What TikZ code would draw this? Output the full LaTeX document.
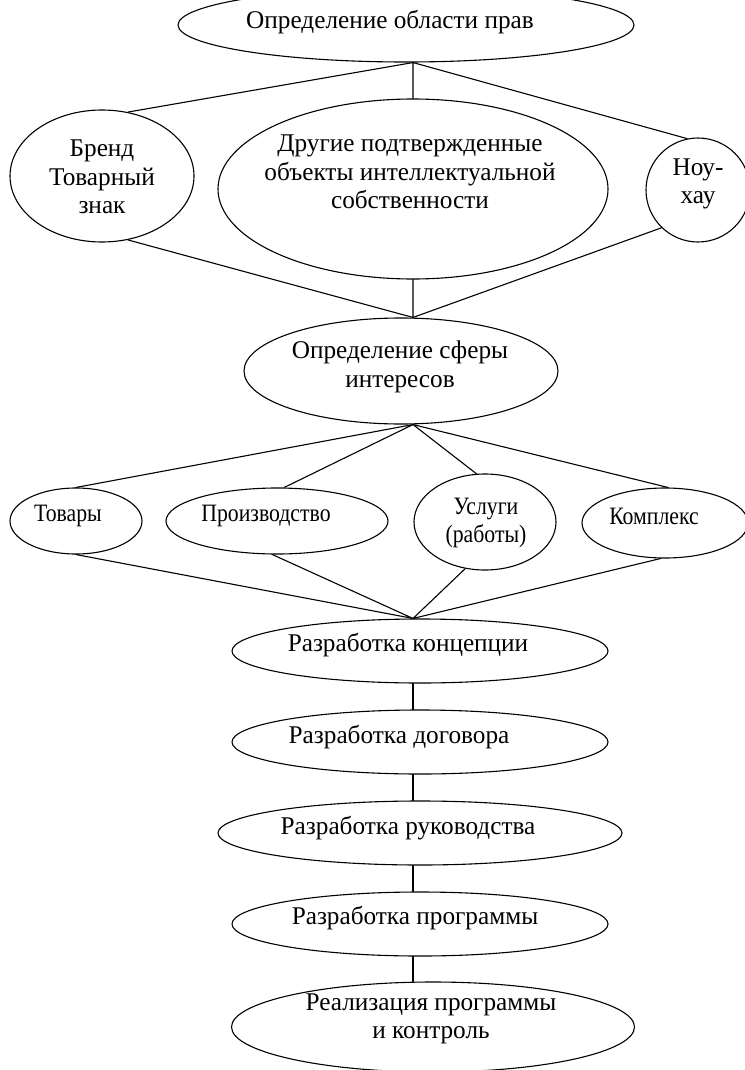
\documentclass[tikz,border=0pt]{standalone}
\usepackage{fontspec}
\setmainfont{Liberation Serif}
\newfontfamily\serifont[FakeStretch=0.99]{Liberation Serif}
\newfontfamily\narrowfont[FakeStretch=0.87]{Liberation Serif}
\usetikzlibrary{shapes.geometric}
\tikzset{
  oval/.style={draw, ellipse, inner sep=0pt},
  txt/.style={align=center, inner sep=0pt},
  narrow/.style={font=\narrowfont\fontsize{25}{28.5}\selectfont},
}
\begin{document}
\begin{tikzpicture}[x=1pt, y=-1pt, line width=1.1pt, line join=round, line cap=round,
  font=\serifont\fontsize{25.5}{28.5}\selectfont]
  \useasboundingbox (0,0) rectangle (744,1070);
  % ovals
  \node[oval, minimum width=456pt, minimum height=74pt] (prava) at (406,25) {};
  \node[oval, minimum width=184pt, minimum height=132pt] (brend) at (102,176) {};
  \node[oval, minimum width=390pt, minimum height=180pt] (drugie) at (413,189) {};
  \node[oval, minimum width=104pt, minimum height=104pt] (nou) at (698,190) {};
  \node[oval, minimum width=314pt, minimum height=106pt] (sfera) at (401,371) {};
  \node[oval, minimum width=132pt, minimum height=66pt] (tovary) at (76,521) {};
  \node[oval, minimum width=222pt, minimum height=66pt] (proizv) at (277,521) {};
  \node[oval, minimum width=142pt, minimum height=96pt] (uslugi) at (485,522) {};
  \node[oval, minimum width=166pt, minimum height=70pt] (kompleks) at (665,523) {};
  \node[oval, minimum width=376pt, minimum height=64pt] (konc) at (420,651) {};
  \node[oval, minimum width=376pt, minimum height=64pt] (dogov) at (420,742) {};
  \node[oval, minimum width=404pt, minimum height=64pt] (ruk) at (420,833) {};
  \node[oval, minimum width=376pt, minimum height=64pt] (progr) at (420,924) {};
  \node[oval, minimum width=403pt, minimum height=90pt] (real) at (433,1027) {};
  % texts
  \node[txt] (prava-t) at (390,22) {Определение области прав};
  \node[txt] (brend-t) at (102,177) {Бренд\\Товарный\\знак};
  \node[txt] (drugie-t) at (410,172) {Другие подтвержденные\\объекты интеллектуальной\\собственности};
  \node[txt] (nou-t) at (698,184) {Ноу-\\хау};
  \node[txt] (sfera-t) at (400,367) {Определение сферы\\интересов};
  \node[txt, narrow] (tovary-t) at (68,516) {Товары};
  \node[txt, narrow] (proizv-t) at (266,516) {Производство};
  \node[txt, narrow] (uslugi-t) at (486,523) {Услуги\\(работы)};
  \node[txt, narrow] (kompleks-t) at (654,516) {Комплекс};
  \node[txt] (konc-t) at (408,645) {Разработка концепции};
  \node[txt] (dogov-t) at (399,737) {Разработка договора};
  \node[txt] (ruk-t) at (408,828) {Разработка руководства};
  \node[txt] (progr-t) at (415,918) {Разработка программы};
  \node[txt] (real-t) at (431,1019) {Реализация программы\\и контроль};
  % junctions
  \coordinate (j1) at (prava.south -| drugie.north);
  \coordinate (j2) at (drugie.south |- sfera.north);
  \coordinate (j3) at (drugie.south |- sfera.south);
  \coordinate (j4) at (drugie.south |- konc.north);
  % connectors
  \draw (j1) -- (brend.68) (j1) -- (drugie.north) (j1) -- (nou.102);
  \draw (brend.-68) -- (j2) (drugie.south) -- (j2) (nou.-134) -- (j2);
  \draw (j3) -- (tovary.north) (j3) -- (proizv.78) (j3) -- (uslugi.100) (j3) -- (kompleks.85);
  \draw (tovary.south) -- (j4) (proizv.-98) -- (j4) (uslugi.-113) -- (j4) (kompleks.-97) -- (j4);
  \foreach \a/\b in {konc/dogov, dogov/ruk, ruk/progr, progr/real}
    \draw (\a.south -| j4) -- (\b.north -| j4);
\end{tikzpicture}
\end{document}
